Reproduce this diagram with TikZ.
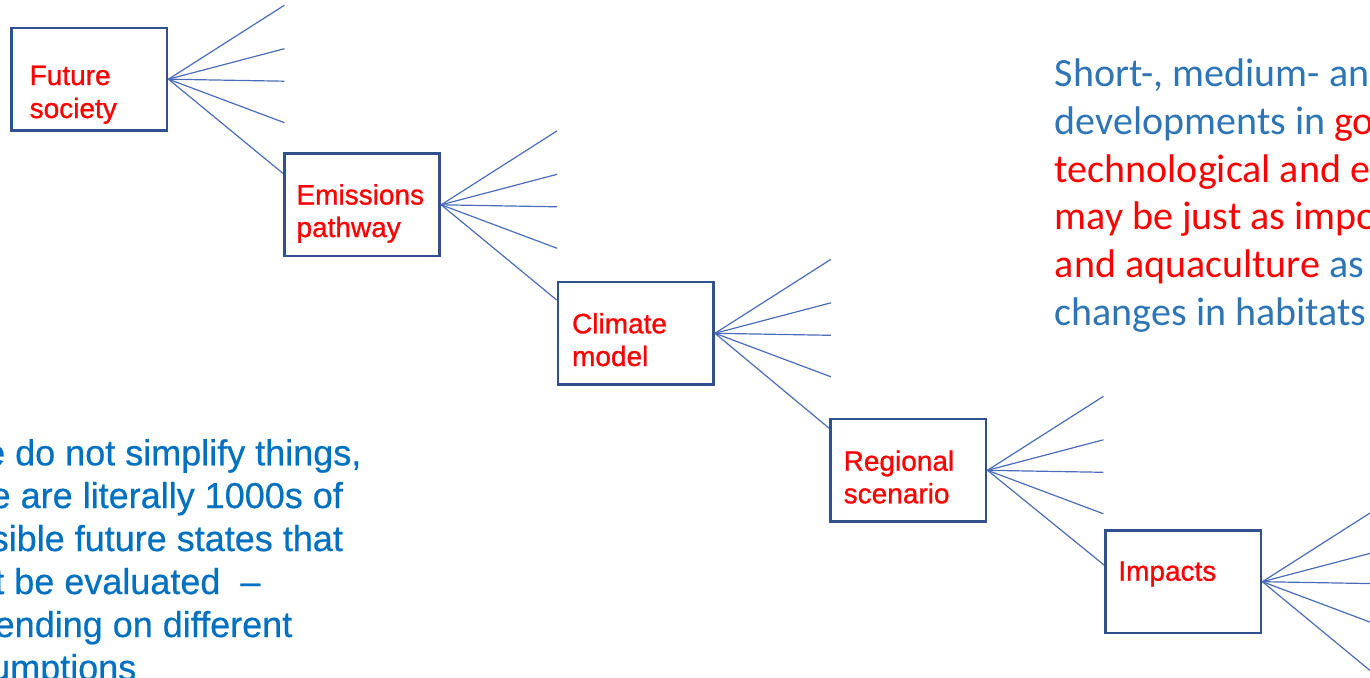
\documentclass[tikz,border=0pt]{standalone}
\usepackage{fontspec}
\setmainfont{Liberation Sans}
\newfontfamily\calib{Carlito}
\newfontfamily\boxfont[FakeBold=0.9]{Liberation Sans}
\newfontfamily\leftfont[FakeBold=0.5]{Liberation Sans}
\usetikzlibrary{calc}
\definecolor{boxline}{HTML}{2F528F}
\definecolor{fanline}{HTML}{4A6CB8}
\definecolor{txtred}{HTML}{FF0000}
\definecolor{leftblue}{HTML}{0070C0}
\definecolor{rightblue}{HTML}{2E75B6}
\begin{document}
\begin{tikzpicture}[x=1pt,y=-1pt,
  stagebox/.style={draw=boxline, line width=2.8pt, minimum width=155.5pt, minimum height=102.5pt, inner sep=0pt},
  stagetext/.style={text=txtred, font=\boxfont\fontsize{28}{33}\selectfont, anchor=base west, inner sep=0pt},
  fan/.style={draw=fanline, line width=1.2pt},
  righttext/.style={font=\calib\fontsize{40}{47.7}\selectfont, anchor=base west, inner sep=0pt},
  lefttext/.style={text=leftblue, font=\leftfont\fontsize{36}{43}\selectfont, anchor=base west, inner sep=0pt}
]
\useasboundingbox (0,0) rectangle (1370,677);
\clip (0,0) rectangle (1370,677);

% stage boxes
\node[stagebox] (b1) at (89.3,79.2) {};
\node[stagebox] (b2) at (362,204.8) {};
\node[stagebox] (b3) at (635.8,333.3) {};
\node[stagebox] (b4) at (908.3,470.3) {};
\node[stagebox] (b5) at (1183.2,581.7) {};

% stage labels
\node[stagetext] (t1a) at (29.5,85) {Future};
\node[stagetext] (t1b) at (29.5,118) {society};
\node[stagetext] (t2a) at (296.3,204.5) {Emissions};
\node[stagetext] (t2b) at (296.3,237) {pathway};
\node[stagetext] (t3a) at (571.9,333.3) {Climate};
\node[stagetext] (t3b) at (571.9,366) {model};
\node[stagetext] (t4a) at (843.5,470.7) {Regional};
\node[stagetext] (t4b) at (843.5,503.3) {scenario};
\node[stagetext] (t5a) at (1118.1,580.7) {Impacts};

% fans of branches
\foreach \b in {b1,b2,b3,b4,b5} {
  \coordinate (\b-f1) at ($(\b.east)+(116,-74)$);
  \coordinate (\b-f2) at ($(\b.east)+(116,-30.5)$);
  \coordinate (\b-f3) at ($(\b.east)+(116,2)$);
  \coordinate (\b-f4) at ($(\b.east)+(116,43.5)$);
  \draw[fan] (\b.east) -- (\b-f1);
  \draw[fan] (\b.east) -- (\b-f2);
  \draw[fan] (\b.east) -- (\b-f3);
  \draw[fan] (\b.east) -- (\b-f4);
}
\coordinate (b5-f5) at ($(b5.east)+(116,95.7)$);
\draw[fan] (b1.east) -- ([yshift=31.5pt]b2.west);
\draw[fan] (b2.east) -- ([yshift=33.3pt]b3.west);
\draw[fan] (b3.east) -- ([yshift=42pt]b4.west);
\draw[fan] (b4.east) -- ([yshift=16.7pt]b5.west);
\draw[fan] (b5.east) -- (b5-f5);

% right text
\node[righttext, text=rightblue] (r1) at (1054.7,86.7) {Short-, medium- an};
\node[righttext] (r2) at (1054.7,134.4) {\textcolor{rightblue}{developments in }\textcolor{txtred}{go}};
\node[righttext, text=txtred] (r3) at (1054.7,182.1) {technological and e};
\node[righttext, text=txtred] (r4) at (1054.7,229.8) {may be just as impo};
\node[righttext] (r5) at (1054.7,277.5) {\textcolor{txtred}{and aquaculture} \textcolor{rightblue}{as}};
\node[righttext, text=rightblue] (r6) at (1054.7,325.2) {changes in habitats};

% left text
\node[lefttext] (l1) at (-15,465.3) {e do not simplify things,};
\node[lefttext] (l2) at (-9.5,508) {e are literally 1000s of};
\node[lefttext] (l3) at (-9.5,551) {sible future states that};
\node[lefttext] (l4) at (-5.9,594) {t be evaluated~~–};
\node[lefttext] (l5) at (-5.5,637) {ending on different};
\node[lefttext] (l6) at (-10,680) {umptions};
\end{tikzpicture}
\end{document}
